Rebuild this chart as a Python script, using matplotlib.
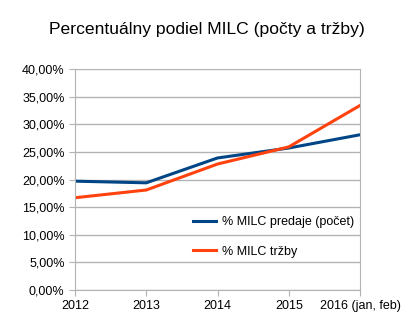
import matplotlib
matplotlib.use("Agg")
import matplotlib.pyplot as plt
from matplotlib.ticker import FuncFormatter

plt.rcParams['font.family'] = ['Liberation Sans', 'DejaVu Sans']

years = ["2012", "2013", "2014", "2015", "2016 (jan, feb)"]
predaje_pocet = [19.7, 19.4, 23.9, 25.7, 28.1]
trzby = [16.7, 18.1, 22.8, 25.9, 33.4]

fig = plt.figure(figsize=(4.13, 3.35), dpi=100)
ax = fig.add_axes([0.1816, 0.1343, 0.6901, 0.6597])

x = list(range(len(years)))
ax.plot(x, predaje_pocet, color="#004586", linewidth=2.2, label="% MILC predaje (počet)")
ax.plot(x, trzby, color="#ff420e", linewidth=2.2, label="% MILC tržby")

ax.set_xlim(0, len(years) - 1)
ax.set_ylim(0, 40)
ax.set_yticks(range(0, 41, 5))
ax.yaxis.set_major_formatter(FuncFormatter(lambda v, p: f"{v:.2f}".replace(".", ",") + "%"))
ax.set_xticks(x)
ax.set_xticklabels(years)

ax.grid(axis="y", color="#b3b3b3", linewidth=1)
ax.set_axisbelow(True)
for s in ["left", "bottom", "right"]:
    ax.spines[s].set_color("#b3b3b3")
ax.spines["top"].set_visible(False)
ax.tick_params(colors="#b3b3b3", labelcolor="black", length=4, labelsize=9)

fig.suptitle("Percentuálny podiel MILC (počty a tržby)", x=0.5, y=0.935, fontsize=12.6)

ax.legend(loc="upper left", bbox_to_anchor=(0.375, 0.385), frameon=False, fontsize=9,
          handlelength=1.8, labelspacing=1.4, handletextpad=0.5)

fig.savefig("out.png", dpi=100)
